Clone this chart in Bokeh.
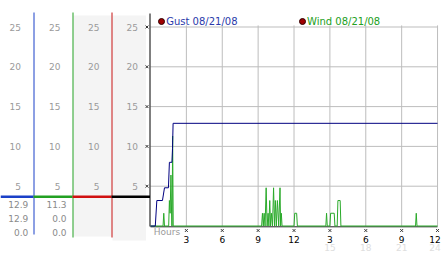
from bokeh.plotting import figure
from bokeh.models import Range1d, ColumnDataSource
from bokeh.core.properties import value
from bokeh.embed import file_html
from bokeh.resources import INLINE

# ---------------- data ----------------
gust_hours = [0.0, 0.40, 0.53, 1.00, 1.17, 1.50, 1.58, 1.79, 1.84, 1.89, 24.0]
gust_mph = [0.0, 0.0, 3.2, 3.2, 4.8, 4.8, 8.0, 8.0, 9.7, 12.9, 12.9]

wind_hours = [0.0, 1.05, 1.11, 1.17, 1.52, 1.58, 1.64, 1.71, 1.78, 1.81, 1.85, 1.90,
              9.29, 9.36, 9.43, 9.50, 9.58, 9.67, 9.75, 9.83, 9.90, 9.97, 10.04, 10.11,
              10.20, 10.29, 10.37, 10.44, 10.52, 10.61, 10.72, 10.83, 10.88, 10.94, 11.00,
              12.00, 12.06, 12.22, 12.28,
              14.66, 14.72, 14.78, 15.00, 15.06, 15.36, 15.42,
              15.61, 15.67, 15.86, 15.92,
              22.16, 22.22, 22.28, 24.0]
wind_mph = [0.0, 0.0, 1.6, 0.0, 0.0, 3.2, 1.6, 6.4, 0.0, 0.0, 11.3, 0.0,
            0.0, 1.6, 0.0, 1.6, 0.0, 4.8, 0.0, 1.6, 0.0, 3.2, 0.0, 1.6,
            0.0, 4.8, 0.0, 3.2, 0.0, 3.2, 0.0, 4.8, 0.0, 1.6, 0.0,
            0.0, 1.6, 1.6, 0.0,
            0.0, 1.6, 0.0, 0.0, 1.6, 1.6, 0.0,
            0.0, 3.2, 3.2, 0.0,
            0.0, 1.6, 0.0, 0.0]

y_ticks = [5, 10, 15, 20, 25]
x_ticks = [3, 6, 9, 12, 15, 18, 21, 24]
x_tick_labels = ["3", "6", "9", "12", "3", "6", "9", "12"]
x_tick_labels_24 = ["", "", "", "", "15", "18", "21", "24"]
gust_stats = ["12.9", "12.9", "0.0"]
wind_stats = ["11.3", "0.0", "0.0"]
legend_labels = ["Gust 08/21/08", "Wind 08/21/08"]
x_title = "Hours"

# ---------------- layout helpers (pixel -> data) ----------------
W, H = 442, 253
X0, SX = 150.0, 11.96
Y0, SY = 225.5, 7.96


def fx(px):
    return (px - X0) / SX


def fy(py):
    return (Y0 - py) / SY


FONT = value("DejaVu Sans")

p = figure(width=W, height=H, output_backend="svg", toolbar_location=None,
           x_range=Range1d(fx(0), fx(W)), y_range=Range1d(fy(H), fy(0)),
           x_axis_location=None, y_axis_location=None, min_border=0)
p.grid.visible = False
p.outline_line_color = None
p.background_fill_color = "white"
p.border_fill_color = "white"

# panel backgrounds
p.quad(left=[fx(73), fx(112)], right=[fx(111), fx(145.5)],
       bottom=[fy(236), fy(240)], top=[fy(15), fy(15)],
       fill_color="#f4f4f4", line_color=None)

# gridlines of the main plot
p.segment(x0=[0] * len(y_ticks), x1=[24] * len(y_ticks), y0=y_ticks, y1=y_ticks,
          line_color="#bdbdbd", line_width=1)
p.segment(x0=x_ticks, x1=x_ticks, y0=[0] * len(x_ticks), y1=[25.2] * len(x_ticks),
          line_color="#bdbdbd", line_width=1)

# left scale columns
col_lines = [33.5, 72.5, 111.5]
col_colors = ["#1a40c8", "#22a022", "#c41010"]
col_bottoms = [234, 237, 237]
p.segment(x0=[fx(c) for c in col_lines], x1=[fx(c) for c in col_lines],
          y0=[fy(b) for b in col_bottoms], y1=[fy(12)] * 3,
          line_color=col_colors, line_width=1)
# main y axis line
p.segment(x0=[fx(149.5)], x1=[fx(149.5)], y0=[fy(226)], y1=[fy(13)],
          line_color="black", line_width=1)

# thick horizontal divider
p.segment(x0=[fx(0), fx(33), fx(72), fx(111)], x1=[fx(33), fx(72), fx(111), fx(149.5)],
          y0=[fy(196.3)] * 4, y1=[fy(196.3)] * 4,
          line_color=["#1a40c8", "#22a022", "#d01010", "black"], line_width=2.5)

# tick labels of the left columns
label_right = [20.5, 60.0, 99.0, 137.5]
xs, ys, ts = [], [], []
for r in label_right:
    for t in y_ticks:
        xs.append(fx(r)); ys.append(t); ts.append(str(t))
p.text(x=xs, y=ys, text=ts, text_align="right", text_baseline="middle",
       text_font=FONT, text_font_size="9px", text_color="#9a9a9a")

# stats
stat_rows = [204, 218.3, 232]
p.text(x=[fx(27.8)] * 3, y=[fy(r) for r in stat_rows], text=gust_stats,
       text_align="right", text_baseline="middle",
       text_font=FONT, text_font_size="9px", text_color="#8a8a8a")
p.text(x=[fx(66)] * 3, y=[fy(r) for r in stat_rows], text=wind_stats,
       text_align="right", text_baseline="middle",
       text_font=FONT, text_font_size="9px", text_color="#8a8a8a")

# tick marks
p.scatter(x=[fx(146.5)] * len(y_ticks), y=y_ticks, marker="x", size=4,
          line_color="#333333", line_width=1)
p.scatter(x=x_ticks, y=[fy(230)] * len(x_ticks), marker="x", size=4,
          line_color="#333333", line_width=1)

# x tick labels (last one nudged so it stays inside the canvas)
offs = [0, 0, 0, 0, 0, 0, 0, -2.5]
p.text(x=x_ticks, y=[fy(238.5)] * len(x_ticks), text=x_tick_labels,
       x_offset=offs, text_align="center", text_baseline="middle",
       text_font=FONT, text_font_size="9px", text_color="black")
p.text(x=x_ticks, y=[fy(246.5)] * len(x_ticks), text=x_tick_labels_24,
       x_offset=offs, text_align="center", text_baseline="middle",
       text_font=FONT, text_font_size="9px", text_color="#dedede")
p.text(x=[fx(153.3)], y=[fy(231.7)], text=[x_title],
       text_align="left", text_baseline="middle",
       text_font=FONT, text_font_size="9px", text_color="#9a9a9a")

# baseline
p.segment(x0=[0], x1=[24], y0=[fy(226.3)], y1=[fy(226.3)], line_color="#222222", line_width=1)

# data series
p.line(wind_hours, wind_mph, line_color="#2aaa2a", line_width=1)
p.line(gust_hours, gust_mph, line_color="#000080", line_width=1)

# legend
leg_x = [fx(161), fx(302)]
p.scatter(x=leg_x, y=[fy(21)] * 2, marker="circle", size=6,
          fill_color="#a00000", line_color="#300000", line_width=1)
p.text(x=[fx(165.7), fx(306.5)], y=[fy(20.5)] * 2, text=legend_labels,
       text_align="left", text_baseline="middle",
       text_font=FONT, text_font_size="10px", text_color=["#2a3aaa", "#22a022"])

open("out.html", "w").write(file_html(p, INLINE))
